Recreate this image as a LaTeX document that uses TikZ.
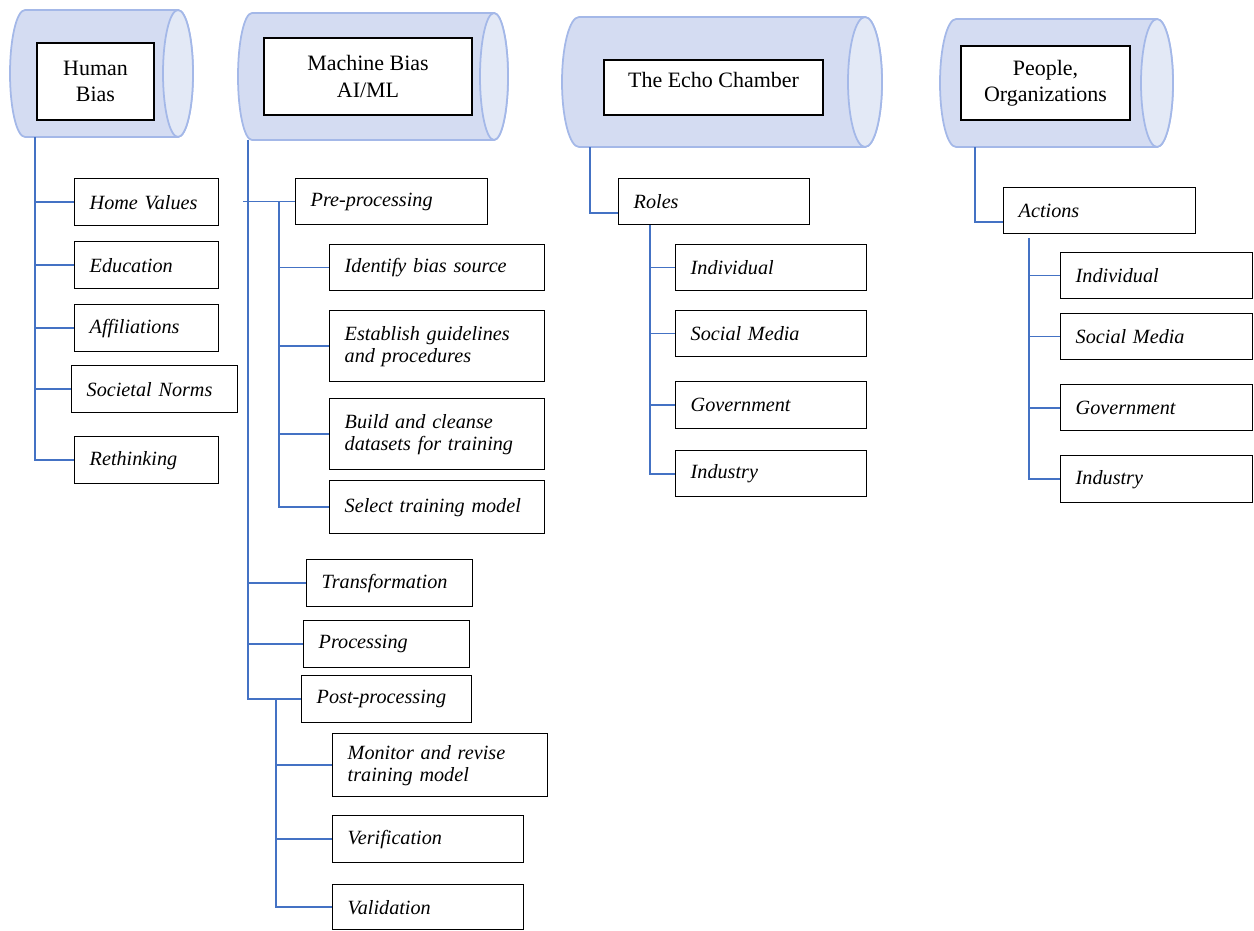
\documentclass[tikz,border=0pt]{standalone}
\usepackage{fontspec}
\setmainfont{Liberation Serif}
\definecolor{cylbody}{RGB}{212,220,242}
\definecolor{cylend}{RGB}{227,233,246}
\definecolor{cylline}{RGB}{164,184,232}
\definecolor{linkblue}{RGB}{68,114,196}
\tikzset{
  drum/.style={draw=cylline, line width=1pt, fill=cylbody},
  head/.style 2 args={draw, line width=0.8pt, fill=white, align=center,
    minimum width=#1*0.02cm, minimum height=#2*0.02cm,
    font=\fontsize{12.5}{15}\selectfont},
  leaf/.style 2 args={draw, line width=0.8pt, anchor=north west, inner xsep=0.3cm,
    text width=#1*0.02cm-0.6cm, minimum height=#2*0.02cm, align=left,
    font=\itshape\fontsize{11.5}{12.5}\selectfont},
  link/.style={draw=linkblue, line width=0.9pt},
}
% lying cylinder: left, right, top, bottom, end radius
\newcommand{\drumshape}[5]{%
  \filldraw[drum] ({#2-#5},#3) -- ({#1+#5},#3)
    arc (-90:-270:{#5} and {(#4-#3)/2}) -- ({#2-#5},#4)
    arc (90:-90:{#5} and {(#4-#3)/2}) -- cycle;
  \filldraw[drum, fill=cylend] ({#2-#5},{(#3+#4)/2})
    ellipse ({#5} and {(#4-#3)/2});}
\begin{document}
\begin{tikzpicture}[x=0.02cm, y=-0.02cm]
\useasboundingbox (0,0) rectangle (1254,930);

% cylinders with their headings
\drumshape{10}{193}{10}{137}{15}
\drumshape{238}{508}{13}{140}{14}
\drumshape{562}{882}{17}{147}{17}
\drumshape{940}{1173}{19}{147}{16}

\node[head={117}{77}] (hb) at (95.5,81.5) {Human\\Bias};
\node[head={208}{77}] (mb) at (368,76.5) {Machine Bias\\AI/ML};
\node[head={219}{55}, text depth=9pt] (ec) at (713.5,87.5) {The Echo Chamber};
\node[head={169}{74}] (po) at (1045.5,83) {People,\\Organizations};

% human bias
\node[leaf={144}{47}] (homev) at (74,178) {Home Values};
\node[leaf={144}{47}] (educ) at (74,241) {Education};
\node[leaf={144}{47}] (affil) at (74,304) {Affiliations};
\node[leaf={166}{47}] (norms) at (71,365) {Societal Norms};
\node[leaf={144}{47}] (rethink) at (74,436) {Rethinking};

% machine bias
\node[leaf={192}{46}] (preproc) at (295,178) {Pre-processing};
\node[leaf={215}{46}] (ident) at (329,244) {Identify bias source};
\node[leaf={215}{71}] (estab) at (329,310) {Establish guidelines\\and procedures};
\node[leaf={215}{71}] (build) at (329,398) {Build and cleanse\\datasets for training};
\node[leaf={215}{53}] (select) at (329,480) {Select training model};
\node[leaf={166}{47}] (transf) at (306,559) {Transformation};
\node[leaf={166}{47}] (proc) at (303,620) {Processing};
\node[leaf={170}{47}] (postproc) at (301,675) {Post-processing};
\node[leaf={215}{63}] (monitor) at (332,733) {Monitor and revise\\training model};
\node[leaf={191}{47}] (verif) at (332,815) {Verification};
\node[leaf={191}{45}] (valid) at (332,884) {Validation};

% echo chamber
\node[leaf={191}{46}] (roles) at (618,178) {Roles};
\node[leaf={191}{46}] (rind) at (675,244) {Individual};
\node[leaf={191}{46}] (rsoc) at (675,310) {Social Media};
\node[leaf={191}{47}] (rgov) at (675,381) {Government};
\node[leaf={191}{46}] (rindu) at (675,450) {Industry};

% people, organizations
\node[leaf={192}{46}] (actions) at (1003,187) {Actions};
\node[leaf={192}{46}] (aind) at (1060,252) {Individual};
\node[leaf={192}{46}] (asoc) at (1060,313) {Social Media};
\node[leaf={192}{46}] (agov) at (1060,384) {Government};
\node[leaf={192}{47}] (aindu) at (1060,455) {Industry};

% trunks
\coordinate (t1) at (35,137);
\coordinate (t2) at (248,140);
\coordinate (t2a) at (279,0);
\coordinate (t2b) at (276,0);
\coordinate (t2c) at (243,0);
\coordinate (t3) at (590,147);
\coordinate (t3a) at (650,0);
\coordinate (t4) at (975,147);
\coordinate (t4a) at (1029,0);

\draw[link] (t1) |- (rethink.west);
\foreach \n in {homev,educ,affil,norms}
  \draw[link] (t1 |- \n.west) -- (\n.west);

\draw[link] (t2) |- (postproc.west);
\draw[link] (t2c |- preproc.west) -- (preproc.west);
\foreach \n in {transf,proc}
  \draw[link] (t2 |- \n.west) -- (\n.west);
\draw[link] (t2a |- preproc.west) |- (select.west);
\foreach \n in {ident,estab,build}
  \draw[link] (t2a |- \n.west) -- (\n.west);
\draw[link] (t2b |- postproc.west) |- (valid.west);
\foreach \n in {monitor,verif}
  \draw[link] (t2b |- \n.west) -- (\n.west);

\draw[link] (t3) |- ([yshift=-6.5pt]roles.west);
\draw[link] (t3a |- roles.south) |- (rindu.west);
\foreach \n in {rind,rsoc,rgov}
  \draw[link] (t3a |- \n.west) -- (\n.west);

\draw[link] (t4) |- ([yshift=-6.5pt]actions.west);
\draw[link] ([yshift=-2pt]t4a |- actions.south) |- (aindu.west);
\foreach \n in {aind,asoc,agov}
  \draw[link] (t4a |- \n.west) -- (\n.west);
\end{tikzpicture}
\end{document}
